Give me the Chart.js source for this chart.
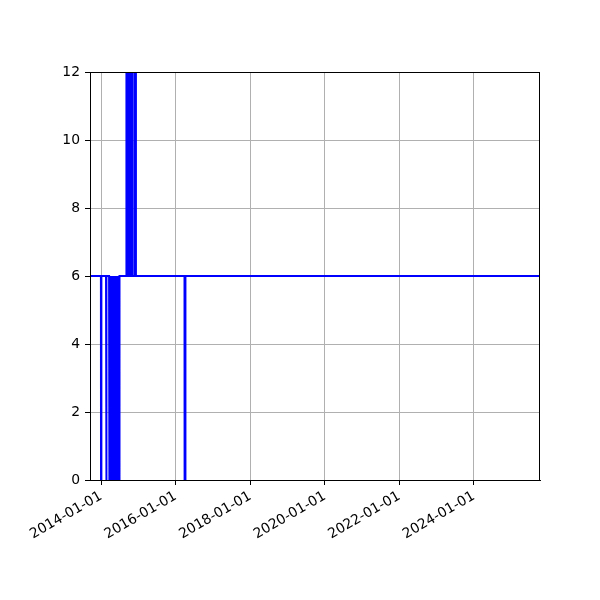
<!DOCTYPE html>
<html>
<head>
<meta charset="utf-8">
<script src="https://cdn.jsdelivr.net/npm/chart.js@4/dist/chart.umd.min.js"></script>
<style>
  html, body { margin: 0; padding: 0; background: #ffffff; }
  #wrap { width: 600px; height: 600px; }
</style>
</head>
<body>
<div id="wrap"><canvas id="grafico" width="600" height="600"></canvas></div>
<script>
// Datos de la serie (fecha, valor)
const fechas = [
  '2013-09-14', '2013-12-30', '2013-12-31', '2014-01-03', '2014-01-04',
  '2014-02-18', '2014-02-19', '2014-02-23', '2014-02-24',
  '2014-03-20', '2014-03-21', '2014-03-25', '2014-03-29', '2014-04-02',
  '2014-04-06', '2014-04-10', '2014-04-14', '2014-04-18', '2014-04-22',
  '2014-04-26', '2014-04-30', '2014-05-04', '2014-05-08', '2014-05-12',
  '2014-05-16', '2014-05-20', '2014-05-24', '2014-05-28', '2014-06-01',
  '2014-06-05', '2014-06-09', '2014-06-13', '2014-06-17', '2014-06-21',
  '2014-06-25', '2014-06-29', '2014-06-30',
  '2014-09-03', '2014-09-04', '2014-09-08', '2014-09-12', '2014-09-16',
  '2014-09-20', '2014-09-24', '2014-09-28', '2014-10-02', '2014-10-06',
  '2014-10-10', '2014-10-14', '2014-10-18', '2014-10-19',
  '2014-10-27', '2014-10-28', '2014-10-31', '2014-11-01',
  '2014-11-22', '2014-11-23', '2014-12-07', '2014-12-08',
  '2016-03-28', '2016-03-29', '2016-04-05', '2016-04-06',
  '2025-10-10'
];
const valores = [
  6, 6, 0, 0, 6,
  6, 0, 0, 6,
  6, 0, 6, 0, 6,
  0, 6, 0, 6, 0,
  6, 0, 6, 0, 6,
  0, 6, 0, 6, 0,
  6, 0, 6, 0, 6,
  0, 0, 6,
  6, 12, 6, 12, 6,
  12, 6, 12, 6, 12,
  6, 12, 12, 6,
  6, 12, 12, 6,
  6, 12, 12, 6,
  6, 0, 0, 6,
  6
];

// Etiquetas del eje X y limites
const etiquetasX = ['2014-01-01', '2016-01-01', '2018-01-01', '2020-01-01', '2022-01-01', '2024-01-01'];
const limitesX = ['2013-09-14', '2025-10-10'];
const limitesY = [0, 12];

const ctx = document.getElementById('grafico');

// Marco completo del area del grafico (como matplotlib)
const marco = {
  id: 'marco',
  afterDraw(chart) {
    const a = chart.chartArea;
    const c = chart.ctx;
    c.save();
    c.strokeStyle = '#000000';
    c.lineWidth = 1;
    c.strokeRect(a.left + 0.5, a.top + 0.5, a.right - a.left - 1, a.bottom - a.top);
    c.restore();
  }
};

const fuente = { family: 'DejaVu Sans', size: 13.9 };

new Chart(ctx, {
  type: 'line',
  data: {
    datasets: [{
      data: fechas.map((f, i) => ({ x: Date.parse(f), y: valores[i] })),
      borderColor: '#0000ff',
      borderWidth: 2,
      pointRadius: 0,
      tension: 0,
      fill: false
    }]
  },
  options: {
    responsive: false,
    animation: false,
    devicePixelRatio: 1,
    layout: { padding: { top: 72, right: 60, left: 0, bottom: 0 } },
    plugins: { legend: { display: false }, tooltip: { enabled: false } },
    scales: {
      x: {
        type: 'linear',
        min: Date.parse(limitesX[0]),
        max: Date.parse(limitesX[1]),
        afterBuildTicks: (s) => { s.ticks = etiquetasX.map(e => ({ value: Date.parse(e) })); },
        afterFit: (s) => { s.height = 120; },
        grid: { color: '#b0b0b0', lineWidth: 1, tickLength: 5, tickColor: '#000000' },
        border: { display: true, color: '#000000' },
        ticks: {
          autoSkip: false,
          minRotation: 30,
          maxRotation: 30,
          padding: 3,
          color: '#000000',
          font: fuente,
          callback: (v) => new Date(v).toISOString().slice(0, 10)
        }
      },
      y: {
        min: limitesY[0],
        max: limitesY[1],
        afterFit: (s) => { s.width = 90; },
        grid: { color: '#b0b0b0', lineWidth: 1, tickLength: 5, tickColor: '#000000' },
        border: { display: true, color: '#000000' },
        ticks: { stepSize: 2, padding: 5, color: '#000000', font: fuente }
      }
    }
  },
  plugins: [marco]
});
</script>
</body>
</html>
